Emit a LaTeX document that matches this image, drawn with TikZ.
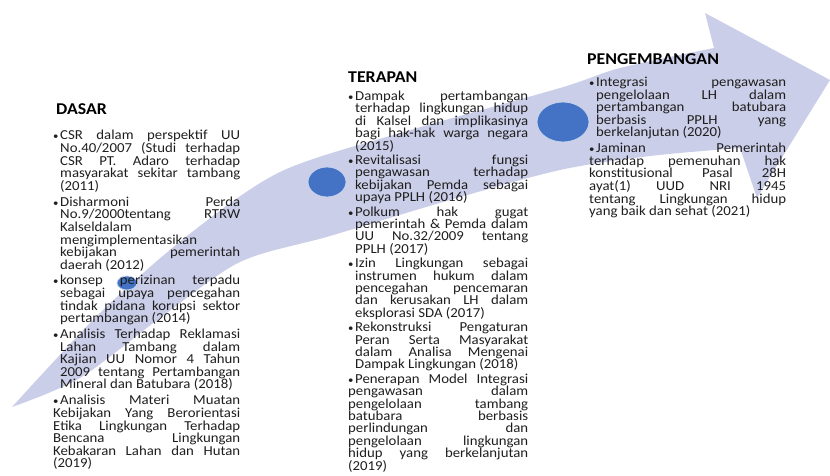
\documentclass[tikz,border=0pt]{standalone}
\usepackage{fontspec}
\setmainfont{Carlito}[FakeStretch=1.08]
\usepackage{tikz}
\frenchspacing
\definecolor{bandblue}{HTML}{CBCEE8}
\definecolor{dotblue}{HTML}{4472C4}
\definecolor{textgray}{HTML}{1E1E1E}
\tikzstyle{dot} = [fill=dotblue, draw=white!70!dotblue, line width=0.8pt]
\tikzstyle{head} = [anchor=base west, inner sep=0pt, font=\fontsize{16.5}{18}\selectfont\bfseries]
\tikzstyle{column} = [anchor=north west, inner sep=0pt, align=justify, text=textgray, font=\fontsize{13.7}{12.6}\selectfont, execute at begin node={\setlength{\parskip}{3.2pt}\lineskiplimit=-20pt\lineskip=0pt\tolerance=10000\hbadness=10000\hyphenpenalty=10000}]
\tikzstyle{tight} = [font=\fontsize{13.7}{12.4}\selectfont, execute at begin node={\setlength{\parskip}{2pt}}]
\newcommand{\itm}{\par\hangindent=7pt\hangafter=1\noindent\hbox to 7pt{\vrule height 10.5pt width 0pt{\fontsize{10}{10}\selectfont •}\hfil}}

\begin{document}
\begin{tikzpicture}[x=1pt,y=-1pt]
			\useasboundingbox (0,0) rectangle (830,476);
			% the rising arrow
			\fill[bandblue] plot[smooth] coordinates {(12,407) (100,313) (187,236) (280,172) (400,133) (560,88) (620,68) (714,48)}
				-- (705,13) -- (830,80) -- (757,198) -- (740,148)
				-- plot[smooth] coordinates {(740,148) (650,156) (560,170) (450,200) (330,236) (240,262) (160,318) (80,378) (12,407)} -- cycle;
			\path[dot] (127,283) ellipse (10pt and 7pt);
			\path[dot] (327,182) ellipse (19pt and 15pt);
			\path[dot] (563,122) ellipse (26pt and 20pt);
			% stages
			\node[head] (dasar) at (56,115) {DASAR};
			\node[head] (terapan) at (348,83) {TERAPAN};
			\node[head] (pengembangan) at (587,65) {PENGEMBANGAN};
			\node[column, text width=187pt] (dasarlist) at (53,124) {%
				\itm CSR dalam perspektif UU \linebreak No.40/2007 (Studi terhadap \linebreak CSR PT. Adaro terhadap \linebreak masyarakat sekitar tambang \linebreak (2011)
				\itm Disharmoni Perda \linebreak No.9/2000tentang RTRW \linebreak Kalseldalam \linebreak mengimplementasikan \linebreak kebijakan pemerintah \linebreak daerah (2012)
				\itm konsep perizinan terpadu \linebreak sebagai upaya pencegahan \linebreak tindak pidana korupsi sektor \linebreak pertambangan (2014)
				\itm Analisis Terhadap Reklamasi \linebreak Lahan Tambang dalam \linebreak Kajian UU Nomor 4 Tahun \linebreak 2009 tentang Pertambangan \linebreak Mineral dan Batubara (2018)
				\itm Analisis Materi Muatan \linebreak Kebijakan Yang Berorientasi \linebreak Etika Lingkungan Terhadap \linebreak Bencana Lingkungan \linebreak Kebakaran Lahan dan Hutan \linebreak (2019)};
			\node[column, tight, text width=180pt] (terapanlist) at (348,86) {%
				\itm Dampak pertambangan \linebreak terhadap lingkungan hidup \linebreak di Kalsel dan implikasinya \linebreak bagi hak-hak warga negara \linebreak (2015)
				\itm Revitalisasi fungsi \linebreak pengawasan terhadap \linebreak kebijakan Pemda sebagai \linebreak upaya PPLH (2016)
				\itm Polkum hak gugat \linebreak pemerintah \& Pemda dalam \linebreak UU No.32/2009 tentang \linebreak PPLH (2017)
				\itm Izin Lingkungan sebagai \linebreak instrumen hukum dalam \linebreak pencegahan pencemaran \linebreak dan kerusakan LH dalam \linebreak eksplorasi SDA (2017)
				\itm Rekonstruksi Pengaturan \linebreak Peran Serta Masyarakat \linebreak dalam Analisa Mengenai \linebreak Dampak Lingkungan (2018)
				\itm Penerapan Model Integrasi \linebreak pengawasan dalam \linebreak pengelolaan tambang \linebreak batubara berbasis \linebreak perlindungan dan \linebreak pengelolaan lingkungan \linebreak hidup yang berkelanjutan \linebreak (2019)};
			\node[column, text width=197pt] (pengembanganlist) at (589,70.5) {%
				\itm Integrasi pengawasan \linebreak pengelolaan LH dalam \linebreak pertambangan batubara \linebreak berbasis PPLH yang \linebreak berkelanjutan (2020)
				\itm Jaminan Pemerintah \linebreak terhadap pemenuhan hak \linebreak konstitusional Pasal 28H \linebreak ayat(1) UUD NRI 1945 \linebreak tentang Lingkungan hidup \linebreak yang baik dan sehat (2021)};
		\end{tikzpicture}
\end{document}
